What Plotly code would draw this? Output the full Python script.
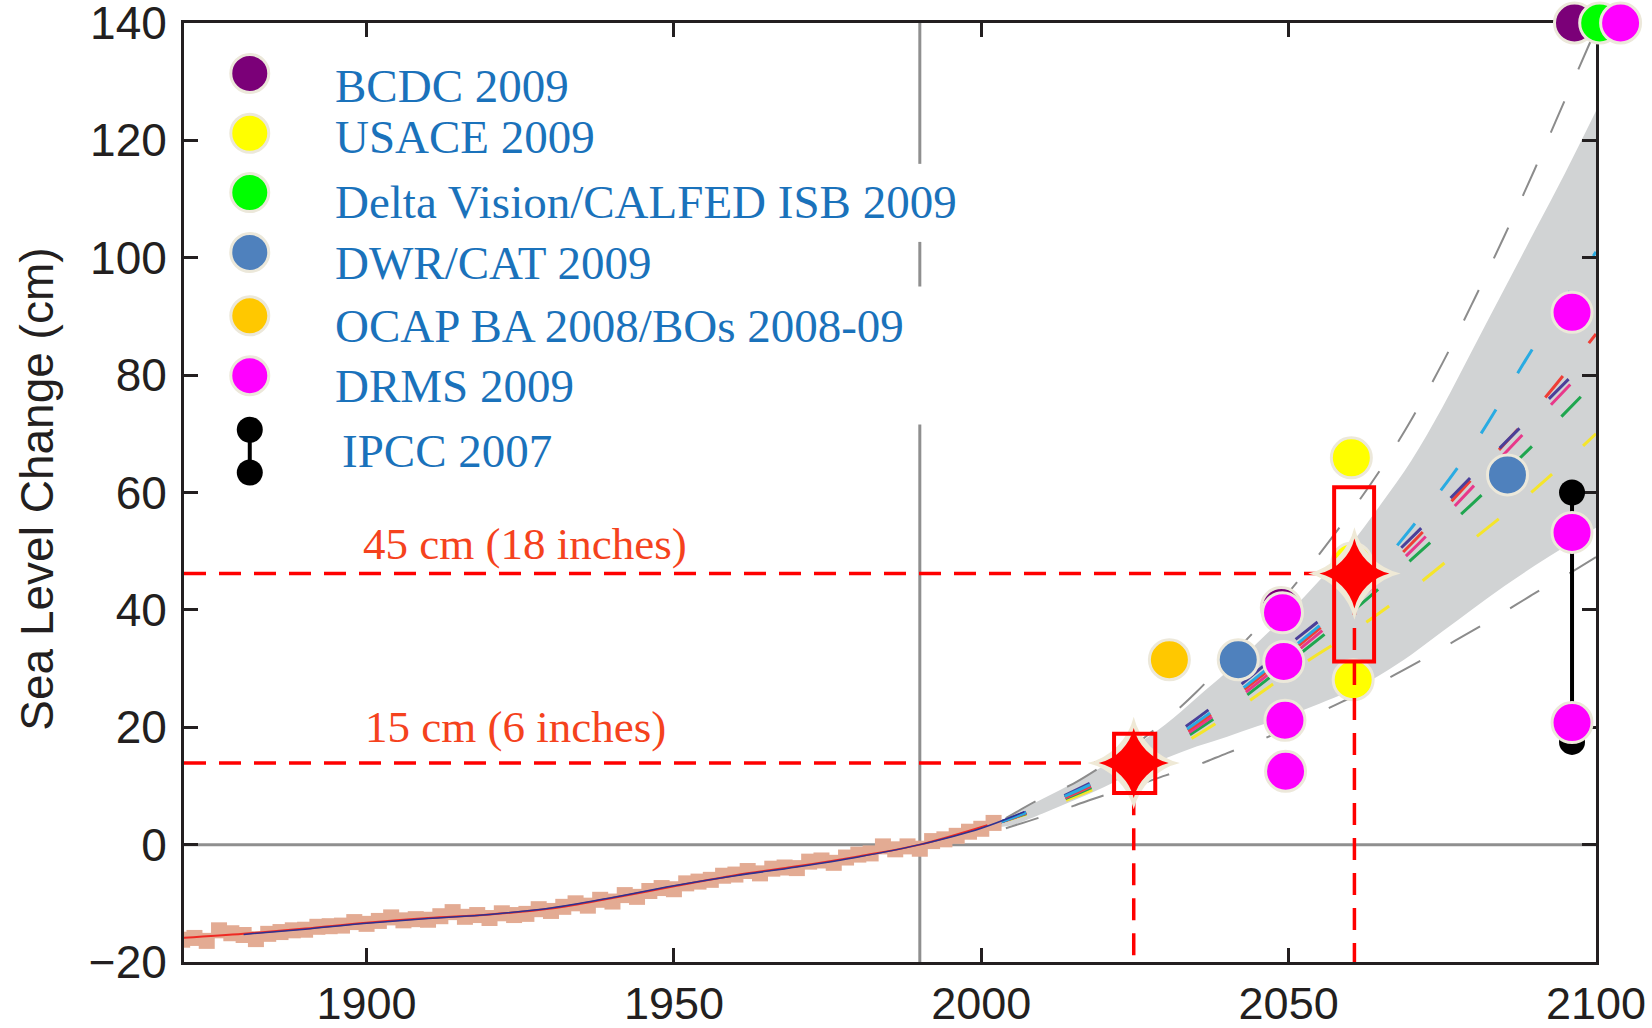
import plotly.graph_objects as go

# ---------------- data ----------------
# historical tide-gauge observations (cm), every 2 years
hist_years = list(range(1870, 2003, 2))
hist_obs = [-16.2, -15.9, -16.4, -14.6, -15.1, -15.4, -16.1, -15.2, -14.9, -14.6,
            -14.5, -14.0, -13.9, -13.8, -13.2,
            -13.5, -13.0, -12.4, -12.9, -12.7, -12.8, -12.2, -11.5, -12.3, -12.0,
            -12.5, -11.7, -12.0, -11.8, -11.0, -11.3, -10.6, -10.0, -10.4, -9.4,
            -9.7, -8.6, -8.9, -7.9, -7.4,
            -7.6, -6.6, -6.3, -6.0, -5.3, -5.1, -4.5, -4.9, -4.1, -3.9,
            -4.0, -2.9, -2.7, -3.1, -2.2, -1.7, -1.5, -0.3, -0.8, -0.3,
            -0.7, 0.6, 0.9, 1.5, 2.2,
            2.7, 3.7]

red_fit_years = [1870, 1880, 1890, 1900, 1910, 1920, 1930, 1940, 1950, 1960, 1970, 1980, 1990, 2001]
red_fit = [-15.9, -15.2, -14.3, -13.3, -12.5, -11.9, -10.9, -9.1, -7.1, -5.2, -3.7, -2.0, 0.0, 3.3]

blue_fit_years = [1880, 1890, 1900, 1910, 1920, 1930, 1940, 1950, 1960, 1970, 1980, 1990, 2000, 2007]
blue_fit = [-15.3, -14.4, -13.4, -12.6, -11.9, -10.8, -9.0, -7.0, -5.3, -3.8, -2.1, 0.0, 2.8, 5.6]

# projection range (grey band)
band_years = [2003, 2005, 2010, 2015, 2020, 2025, 2030, 2035, 2040, 2045, 2050,
              2055, 2060, 2065, 2070, 2075, 2080, 2085, 2090, 2095, 2100]
band_upper = [3.8, 5.0, 7.8, 10.5, 13.5, 16.8, 20.5, 25.0, 29.5, 34.5, 39.5,
              45.0, 51.0, 58.0, 65.5, 74.5, 84.5, 94.5, 104.5, 114.5, 125.0]
band_lower = [3.0, 3.3, 5.3, 7.5, 9.8, 12.5, 14.7, 16.7, 18.4, 20.2, 22.0,
              24.0, 26.2, 29.0, 32.4, 36.3, 40.2, 44.0, 47.5, 50.8, 54.0]

# outer envelope (grey dashed)
env_years = [2004, 2010, 2015, 2020, 2025, 2030, 2035, 2040, 2045, 2050,
             2055, 2060, 2065, 2070, 2075, 2080, 2085, 2090, 2095, 2100]
env_upper = [4.5, 8.0, 10.4, 13.6, 17.0, 21.2, 26.0, 31.5, 37.0, 43.0,
             49.5, 56.5, 64.0, 72.5, 82.0, 92.5, 103.5, 115.0, 127.0, 139.0]
env_lower = [2.8, 4.8, 6.6, 8.4, 10.0, 11.8, 13.5, 15.6, 17.6, 20.0,
             22.5, 25.0, 27.7, 30.5, 33.5, 36.5, 39.6, 42.8, 45.8, 49.0]

# individual model projections (coloured dashes)
proj_years = [2003, 2010, 2020, 2030, 2040, 2050, 2060, 2070, 2080, 2090, 2100]
proj_cyan = [3.8, 6.6, 11.4, 17.3, 24.6, 33.0, 42.0, 54.0, 68.0, 85.0, 101.0]
proj_indigo = [3.8, 6.7, 11.7, 17.8, 25.4, 34.0, 42.5, 52.3, 63.0, 73.5, 84.0]
proj_red = [3.8, 6.5, 11.2, 17.0, 24.2, 32.5, 41.3, 51.3, 62.5, 74.0, 87.0]
proj_pink = [3.8, 6.4, 11.0, 16.6, 23.6, 31.8, 40.5, 50.1, 61.0, 72.0, 83.0]
proj_green = [3.8, 6.3, 10.7, 16.2, 23.0, 31.0, 39.4, 48.6, 58.2, 68.3, 79.0]
proj_yellow = [3.8, 6.1, 10.2, 15.5, 21.9, 29.2, 36.0, 43.5, 52.0, 60.5, 70.0]

# agency estimates
bcdc_x = [2048.8, 2096.5]
bcdc_y = [40.4, 140.0]
usace_x = [2060.2, 2060.3, 2060.5]
usace_y = [65.9, 48.0, 28.1]
delta_x = [2100.6]
delta_y = [140.0]
dwr_x = [2041.8, 2085.6]
dwr_y = [31.5, 63.0]
ocap_x = [2030.6]
ocap_y = [31.5]
drms_x = [2049.0, 2049.2, 2049.4, 2049.5, 2096.1, 2096.1, 2096.1, 2104.0]
drms_y = [39.5, 31.2, 21.2, 12.5, 90.7, 53.2, 20.8, 140.0]
ipcc_x = [2096.1, 2096.1]
ipcc_y = [17.5, 60.0]

# planning targets
target_labels = ["45 cm (18 inches)", "15 cm (6 inches)"]
target_levels = [46.2, 13.9]
target_years = [2060.7, 2024.8]
box_x0 = [2057.4, 2021.6]
box_x1 = [2063.9, 2028.3]
box_y0 = [31.2, 8.8]
box_y1 = [60.9, 18.9]

legend_names = ["BCDC 2009", "USACE 2009", "Delta Vision/CALFED ISB 2009",
                "DWR/CAT 2009", "OCAP BA 2008/BOs 2008-09", "DRMS 2009", "IPCC 2007"]

x_ticks = [1900, 1950, 2000, 2050, 2100]
y_ticks = [-20, 0, 20, 40, 60, 80, 100, 120, 140]

# ---------------- styling ----------------
C_PURPLE = "#7b0078"
C_YELLOW = "#ffff00"
C_GREEN = "#00ff00"
C_BLUE = "#4f81bd"
C_ORANGE = "#ffc800"
C_MAGENTA = "#ff00ff"
EDGE = "#ece8da"
TXT_BLUE = "#1a72bb"
TXT_RED = "#f5421d"
AX = "#231f20"
XMIN, XMAX = 1870.3, 2100
YMIN, YMAX = -20, 140

W, H = 1652, 1028
ML, MR, MT, MB = 184, 8, 23, 66
PLOT_W = 1412                       # width of the framed plot area
AREA_W = W - ML - MR                # full drawing width (room for off-axis markers)
X2MAX = XMIN + (XMAX - XMIN) * AREA_W / PLOT_W

fig = go.Figure()

# grey band
fig.add_trace(go.Scatter(x=band_years, y=band_upper, mode="lines", line=dict(width=0, shape="spline"),
                         hoverinfo="skip", showlegend=False))
fig.add_trace(go.Scatter(x=band_years, y=band_lower, mode="lines", line=dict(width=0, shape="spline"),
                         fill="tonexty", fillcolor="#d1d3d4", hoverinfo="skip", showlegend=False))

# envelope dashes
for ys in (env_upper, env_lower):
    fig.add_trace(go.Scatter(x=env_years, y=ys, mode="lines",
                             line=dict(color="#8c8c8c", width=2, dash="34px,35px", shape="spline"),
                             showlegend=False, hoverinfo="skip"))

# model projections
for ys, col in ((proj_yellow, "#f5e52a"), (proj_green, "#1fa64f"), (proj_pink, "#e8388a"),
                (proj_red, "#ef3e36"), (proj_indigo, "#4a3f99"), (proj_cyan, "#29abe2")):
    fig.add_trace(go.Scatter(x=proj_years, y=ys, mode="lines",
                             line=dict(color=col, width=3, dash="28px,42px", shape="spline"),
                             showlegend=False, hoverinfo="skip"))

# historical observations
fig.add_trace(go.Scatter(x=hist_years, y=hist_obs, mode="markers",
                         marker=dict(symbol="square", size=16, color="#e3ab93", line=dict(width=0)),
                         showlegend=False, hoverinfo="skip"))
fig.add_trace(go.Scatter(x=red_fit_years, y=red_fit, mode="lines",
                         line=dict(color="#ee2a24", width=2, shape="spline"), showlegend=False))
fig.add_trace(go.Scatter(x=blue_fit_years, y=blue_fit, mode="lines",
                         line=dict(color="#2e3192", width=1.5, shape="spline"), showlegend=False))

# ---- overlay layer (x2 has the same scale as x but room to the right of the frame) ----
def dots(xs, ys, col, size=40, lw=3, edge=EDGE):
    fig.add_trace(go.Scatter(x=xs, y=ys, xaxis="x2", yaxis="y", mode="markers", cliponaxis=False,
                             marker=dict(size=size, color=col, line=dict(color=edge, width=lw)),
                             showlegend=False, hoverinfo="skip"))


dots(bcdc_x, bcdc_y, C_PURPLE)
dots(usace_x, usace_y, C_YELLOW)
dots(delta_x, delta_y, C_GREEN)
dots(dwr_x, dwr_y, C_BLUE)
dots(ocap_x, ocap_y, C_ORANGE)
fig.add_trace(go.Scatter(x=ipcc_x, y=ipcc_y, xaxis="x2", yaxis="y", mode="lines+markers", cliponaxis=False,
                         line=dict(color="black", width=4),
                         marker=dict(size=26, color="black"), showlegend=False))
dots(drms_x, drms_y, C_MAGENTA)

# red guide lines
for lvl, yr in zip(target_levels, target_years):
    fig.add_trace(go.Scatter(x=[XMIN, yr, yr], y=[lvl, lvl, YMIN], xaxis="x2", yaxis="y", mode="lines",
                             line=dict(color="#ff0000", width=3.5, dash="22px,13px"),
                             showlegend=False, hoverinfo="skip"))

# stars
fig.add_trace(go.Scatter(x=target_years, y=target_levels, xaxis="x2", yaxis="y", mode="markers",
                         marker=dict(symbol="star-diamond", size=66, color="#efe9d6", line=dict(width=0)),
                         showlegend=False, hoverinfo="skip"))
fig.add_trace(go.Scatter(x=target_years, y=target_levels, xaxis="x2", yaxis="y", mode="markers",
                         marker=dict(symbol="star-diamond", size=50, color="#ff0000", line=dict(width=0)),
                         showlegend=False, hoverinfo="skip"))

# ---------------- legend (drawn in the plot) ----------------
leg_x = 1881.0
leg_y = [131.4, 121.2, 111.1, 100.9, 90.1, 79.9]
leg_cols = [C_PURPLE, C_YELLOW, C_GREEN, C_BLUE, C_ORANGE, C_MAGENTA]
for yv, col in zip(leg_y, leg_cols):
    dots([leg_x], [yv], col, size=38)
fig.add_trace(go.Scatter(x=[leg_x, leg_x], y=[70.7, 63.4], xaxis="x2", yaxis="y", mode="lines+markers",
                         line=dict(color="black", width=4),
                         marker=dict(size=26, color="black"), showlegend=False))

txt_y = [129.3, 120.5, 109.5, 99.1, 88.3, 78.1, 67.1]
txt_x = [1894.6] * 6 + [1895.6]
annotations = []
for name, tx, ty in zip(legend_names, txt_x, txt_y):
    annotations.append(dict(x=tx, y=ty, xref="x", yref="y", text=name, showarrow=False,
                            xanchor="left", yanchor="middle",
                            font=dict(family="Liberation Serif", size=47, color=TXT_BLUE)))

label_pos = [(1925.7, 51.2), (1924.3, 20.1)]
for lab, (lx, ly) in zip(target_labels, label_pos):
    annotations.append(dict(x=lx, y=ly, xref="x", yref="y", text=lab, showarrow=False,
                            xanchor="center", yanchor="middle",
                            font=dict(family="Liberation Serif", size=45, color=TXT_RED)))

annotations.append(dict(x=(37 - ML) / AREA_W, y=0.503, xref="paper", yref="paper",
                        text="Sea Level Change (cm)",
                        textangle=-90, showarrow=False, xanchor="center", yanchor="middle",
                        font=dict(family="Liberation Sans", size=46, color=AX)))

# ---------------- shapes ----------------
shapes = []
for y0, y1 in [(YMIN, 71.6), (95.1, 102.7), (116.0, YMAX)]:
    shapes.append(dict(type="line", xref="x", yref="y", x0=1990, x1=1990, y0=y0, y1=y1,
                       line=dict(color="#8f8f8f", width=3), layer="below"))
shapes.append(dict(type="line", xref="x", yref="y", x0=XMIN, x1=XMAX, y0=0, y1=0,
                   line=dict(color="#8f8f8f", width=3), layer="below"))
for a, b, c, d in zip(box_x0, box_x1, box_y0, box_y1):
    shapes.append(dict(type="rect", xref="x", yref="y", x0=a, x1=b, y0=c, y1=d,
                       line=dict(color="#ff0000", width=4), fillcolor="rgba(0,0,0,0)", layer="above"))

fig.update_layout(
    width=W, height=H,
    margin=dict(l=ML, r=MR, t=MT, b=MB),
    paper_bgcolor="white", plot_bgcolor="rgba(0,0,0,0)",
    showlegend=False,
    annotations=annotations,
    shapes=shapes,
    font=dict(family="Liberation Sans", color=AX),
    xaxis=dict(domain=[0, PLOT_W / AREA_W], range=[XMIN, XMAX], tickvals=x_ticks,
               ticks="inside", ticklen=14, tickwidth=3, tickcolor=AX,
               showline=True, linecolor=AX, linewidth=3, mirror="ticks",
               showgrid=False, zeroline=False, automargin=False, ticklabelstandoff=0,
               ticklabeloverflow="allow",
               tickfont=dict(family="Liberation Sans", size=45, color=AX)),
    xaxis2=dict(domain=[0, 1], range=[XMIN, X2MAX], anchor="y", visible=False,
                showgrid=False, zeroline=False),
    yaxis=dict(range=[YMIN, YMAX], tickvals=y_ticks, anchor="x",
               ticks="inside", ticklen=14, tickwidth=3, tickcolor=AX,
               showline=True, linecolor=AX, linewidth=3, mirror="ticks",
               showgrid=False, zeroline=False, automargin=False, ticklabelstandoff=5,
               ticklabeloverflow="allow",
               tickfont=dict(family="Liberation Sans", size=46, color=AX)),
)

# remove the browser's default 8px body margin so the figure fills the window exactly
fig.write_html("out.html", config={"displayModeBar": False},
               post_script="document.body.style.margin='0px';document.body.style.overflow='hidden';")
